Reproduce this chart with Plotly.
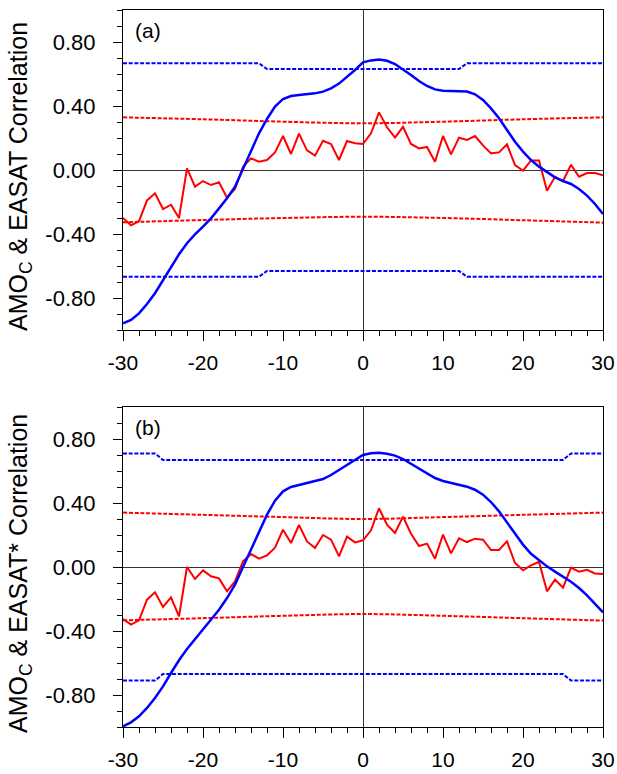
import plotly.graph_objects as go

lags = list(range(-30, 31))

# Panel (a)
red_a = [-0.30, -0.346, -0.32, -0.19, -0.146, -0.244, -0.217, -0.30, 0.01, -0.104,
         -0.069, -0.094, -0.077, -0.173, -0.119, 0.02, 0.073, 0.052, 0.0625, 0.11,
         0.2125, 0.10, 0.227, 0.123, 0.09, 0.183, 0.1625, 0.0625, 0.181, 0.167,
         0.1625, 0.229, 0.36, 0.267, 0.202, 0.27, 0.1625, 0.135, 0.144, 0.052,
         0.2125, 0.098, 0.202, 0.1875, 0.2125, 0.154, 0.104, 0.11, 0.16, 0.031,
         -0.004, 0.06, 0.06, -0.129, -0.042, -0.069, 0.033, -0.042, -0.019, -0.019,
         -0.033]
blue_a = [-0.958, -0.9375, -0.896, -0.8375, -0.77, -0.6875, -0.604, -0.527, -0.458, -0.402,
          -0.354, -0.302, -0.24, -0.177, -0.104, 0.004, 0.115, 0.229, 0.319, 0.396,
          0.444, 0.4625, 0.469, 0.473, 0.479, 0.49, 0.51, 0.54, 0.58, 0.625,
          0.673, 0.685, 0.69, 0.683, 0.6625, 0.631, 0.594, 0.556, 0.525, 0.504,
          0.496, 0.494, 0.494, 0.49, 0.473, 0.4375, 0.385, 0.323, 0.25, 0.177,
          0.115, 0.0625, 0.021, -0.015, -0.046, -0.069, -0.0875, -0.119, -0.16, -0.2125,
          -0.275]
blue_sig_x_a = [-30, -13, -12, 12, 13, 30]
blue_sig_a = [0.667, 0.667, 0.631, 0.631, 0.667, 0.667]
red_sig_x = [-30, -20, -10, 0, 10, 20, 30]
red_sig_up_a = [0.329, 0.317, 0.302, 0.292, 0.302, 0.317, 0.329]
red_sig_lo_a = [-0.327, -0.3125, -0.30, -0.292, -0.30, -0.314, -0.329]

# Panel (b)
red_b = [-0.325, -0.36, -0.333, -0.204, -0.158, -0.25, -0.19, -0.308, 0.0, -0.075,
         -0.021, -0.058, -0.071, -0.152, -0.09, 0.035, 0.081, 0.052, 0.073, 0.121,
         0.233, 0.15, 0.2625, 0.16, 0.119, 0.2, 0.171, 0.067, 0.19, 0.154,
         0.167, 0.229, 0.367, 0.265, 0.2125, 0.315, 0.208, 0.131, 0.146, 0.052,
         0.202, 0.085, 0.179, 0.156, 0.177, 0.171, 0.106, 0.106, 0.16, 0.025,
         -0.021, 0.01, 0.033, -0.152, -0.079, -0.129, -0.004, -0.029, -0.017, -0.04,
         -0.044]
blue_b = [-0.996, -0.971, -0.933, -0.881, -0.819, -0.746, -0.6625, -0.583, -0.5125, -0.45,
          -0.392, -0.329, -0.267, -0.194, -0.11, 0.0, 0.1125, 0.223, 0.327, 0.415,
          0.473, 0.50, 0.5125, 0.523, 0.533, 0.55, 0.575, 0.606, 0.637, 0.67,
          0.700, 0.711, 0.714, 0.708, 0.696, 0.675, 0.646, 0.617, 0.583, 0.556,
          0.5375, 0.525, 0.515, 0.502, 0.483, 0.452, 0.406, 0.348, 0.279, 0.206,
          0.14, 0.083, 0.042, 0.004, -0.029, -0.058, -0.092, -0.131, -0.177, -0.231,
          -0.283]
blue_sig_x_b = [-30, -26, -25, 25, 26, 30]
blue_sig_b = [0.71, 0.71, 0.669, 0.669, 0.71, 0.71]
red_sig_up_b = [0.34, 0.326, 0.312, 0.30, 0.312, 0.326, 0.34]
red_sig_lo_b = [-0.333, -0.32, -0.305, -0.294, -0.305, -0.32, -0.335]

x_tick_vals = [-30, -20, -10, 0, 10, 20, 30]
x_tick_labels = ["-30", "-20", "-10", "0", "10", "20", "30"]
y_tick_vals = [-0.8, -0.4, 0.0, 0.4, 0.8]
y_tick_labels = ["-0.80", "-0.40", "0.00", "0.40", "0.80"]

titles = ["AMO<sub>C</sub> & EASAT Correlation", "AMO<sub>C</sub> & EASAT* Correlation"]
panel_labels = ["(a)", "(b)"]

BLUE = "#0000ff"
RED = "#ff0000"
DASH = "4px,1.7px"

fig = go.Figure()

panels = [
    (red_a, blue_a, blue_sig_x_a, blue_sig_a, red_sig_up_a, red_sig_lo_a),
    (red_b, blue_b, blue_sig_x_b, blue_sig_b, red_sig_up_b, red_sig_lo_b),
]

for i, (red, blue, bsx, bs, rsu, rsl) in enumerate(panels):
    xa = "x" if i == 0 else "x2"
    ya = "y" if i == 0 else "y2"
    fig.add_trace(go.Scatter(x=bsx, y=bs, mode="lines", xaxis=xa, yaxis=ya,
                             line=dict(color=BLUE, width=2, dash=DASH), hoverinfo="skip"))
    fig.add_trace(go.Scatter(x=bsx, y=[-v for v in bs], mode="lines", xaxis=xa, yaxis=ya,
                             line=dict(color=BLUE, width=2, dash=DASH), hoverinfo="skip"))
    fig.add_trace(go.Scatter(x=red_sig_x, y=rsu, mode="lines", xaxis=xa, yaxis=ya,
                             line=dict(color=RED, width=2, dash=DASH, shape="spline"), hoverinfo="skip"))
    fig.add_trace(go.Scatter(x=red_sig_x, y=rsl, mode="lines", xaxis=xa, yaxis=ya,
                             line=dict(color=RED, width=2, dash=DASH, shape="spline"), hoverinfo="skip"))
    fig.add_trace(go.Scatter(x=lags, y=red, mode="lines", xaxis=xa, yaxis=ya,
                             line=dict(color=RED, width=2)))
    fig.add_trace(go.Scatter(x=lags, y=blue, mode="lines", xaxis=xa, yaxis=ya,
                             line=dict(color=BLUE, width=2.5)))

ax_common = dict(showgrid=False, showline=True, linecolor="black", linewidth=1.2,
                 mirror=True, ticks="outside", tickcolor="black", tickwidth=1.2,
                 zeroline=True, zerolinecolor="#333333", zerolinewidth=1,
                 automargin=False)

x_common = dict(ax_common, range=[-30, 30], tickvals=x_tick_vals, ticktext=x_tick_labels,
                ticklen=10, ticklabelstandoff=4,
                tickfont=dict(family="Liberation Sans, Arial, sans-serif", size=21, color="black"),
                minor=dict(dtick=2, tick0=0, ticklen=5, ticks="outside",
                           tickcolor="black", tickwidth=1.2))
y_common = dict(ax_common, range=[-1, 1], tickvals=y_tick_vals, ticktext=y_tick_labels,
                ticklen=9, ticklabelstandoff=13,
                tickfont=dict(family="Liberation Sans, Arial, sans-serif", size=22, color="black"),
                minor=dict(dtick=0.1, tick0=0, ticklen=5, ticks="outside",
                           tickcolor="black", tickwidth=1.2))

top_dom = [397 / 717, 1.0]
bot_dom = [0.0, 320 / 717]

fig.update_layout(
    width=617, height=774,
    margin=dict(l=123, r=14, t=10, b=47, autoexpand=False),
    paper_bgcolor="white", plot_bgcolor="white",
    showlegend=False,
    xaxis=dict(x_common, domain=[0, 1], anchor="y"),
    yaxis=dict(y_common, domain=top_dom, anchor="x"),
    xaxis2=dict(x_common, domain=[0, 1], anchor="y2"),
    yaxis2=dict(y_common, domain=bot_dom, anchor="x2"),
)

doms = [top_dom, bot_dom]
for i in range(2):
    d = doms[i]
    fig.add_annotation(text=titles[i], xref="paper", yref="paper",
                       x=(20 - 123) / 480, y=(d[0] + d[1]) / 2 - 7 / 717,
                       xanchor="center", yanchor="middle", textangle=-90, showarrow=False,
                       font=dict(family="Liberation Sans, Arial, sans-serif",
                                 size=25, color="black"))
    fig.add_annotation(text=panel_labels[i], xref="paper", yref="paper",
                       x=10 / 480, y=d[1] - 7 / 717, xanchor="left", yanchor="top",
                       showarrow=False,
                       font=dict(family="Liberation Sans, Arial, sans-serif", size=21, color="black"))

fig.write_html("out.html")
